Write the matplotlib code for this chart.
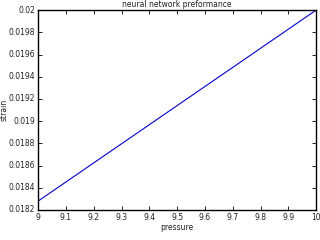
import matplotlib
matplotlib.use("Agg")
import matplotlib.pyplot as plt

# data
pressure = [9.0, 10.0]
strain = [0.01828, 0.02]
xticks = [9, 9.1, 9.2, 9.3, 9.4, 9.5, 9.6, 9.7, 9.8, 9.9, 10]
yticks = [0.0182, 0.0184, 0.0186, 0.0188, 0.019, 0.0192, 0.0194, 0.0196, 0.0198, 0.02]


def main():
	plt.style.use("classic")
	fig = plt.figure(figsize=(3.2, 2.4), dpi=100)
	ax = fig.add_axes([0.119, 0.125, 0.869, 0.833])
	ax.plot(pressure, strain, color="#0000cc", linewidth=0.8)
	ax.set_xlim(9, 10)
	ax.set_ylim(0.0182, 0.02)
	ax.set_xticks(xticks)
	ax.set_xticklabels([("%g" % t) for t in xticks])
	ax.set_yticks(yticks)
	ax.set_yticklabels([("%g" % t) for t in yticks])
	ax.tick_params(labelsize=5.5, length=3, width=0.6, pad=2, labelcolor="#222222")
	for s in ax.spines.values():
		s.set_linewidth(1.0)
	ax.set_xlabel("pressure", fontsize=5.5, labelpad=1, color="#222222")
	ax.set_ylabel("strain", fontsize=5.5, labelpad=0, color="#222222")
	ax.yaxis.set_label_coords(-0.105, 0.5)
	ax.set_title("neural network preformance", fontsize=5.5, pad=2, color="#222222")
	fig.savefig("out.png", dpi=100, facecolor="white")


if __name__ == "__main__":
	main()
